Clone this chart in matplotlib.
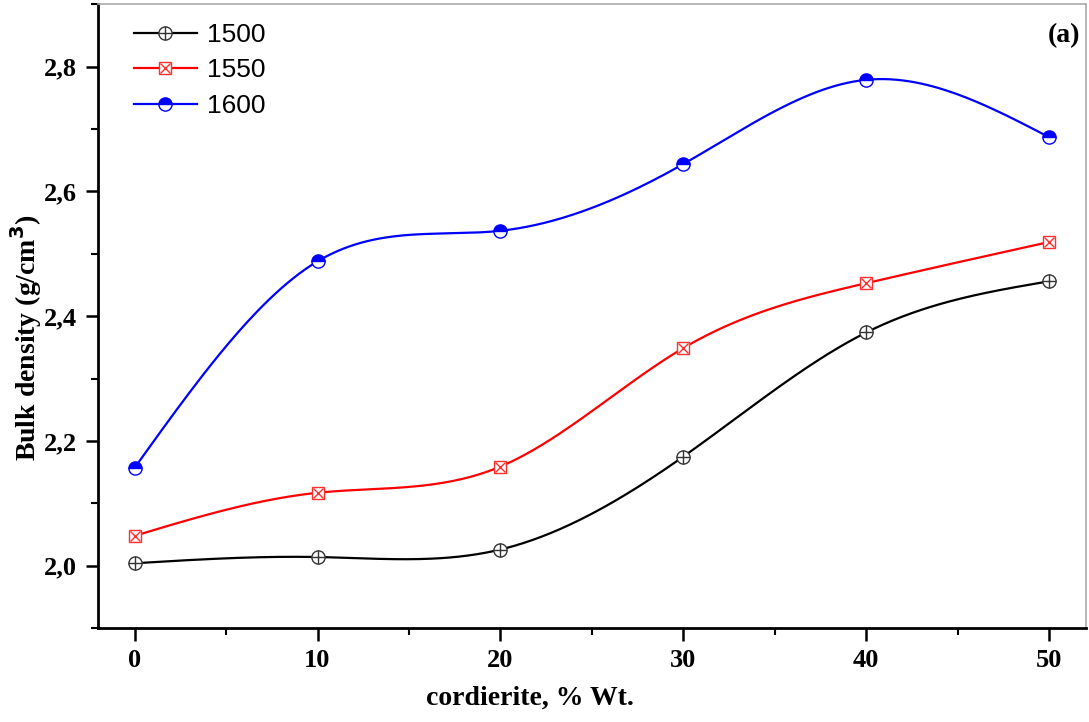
import numpy as np
import matplotlib.pyplot as plt
from matplotlib.ticker import MultipleLocator, FuncFormatter

# cordierite content, % wt
cordierite = [0, 10, 20, 30, 40, 50]

# bulk density (g/cm3) for each firing temperature
bd_1500 = [2.004, 2.014, 2.026, 2.175, 2.374, 2.456]
bd_1550 = [2.048, 2.117, 2.159, 2.349, 2.453, 2.519]
bd_1600 = [2.157, 2.488, 2.537, 2.644, 2.779, 2.687]


def spline(x, y, n=300):
    # natural cubic spline, only used to draw the smooth connecting line
    x = np.asarray(x, float)
    y = np.asarray(y, float)
    h = np.diff(x)
    k = len(x)
    A = np.zeros((k, k))
    b = np.zeros(k)
    A[0, 0] = A[-1, -1] = 1
    for i in range(1, k - 1):
        A[i, i - 1] = h[i - 1]
        A[i, i] = 2 * (h[i - 1] + h[i])
        A[i, i + 1] = h[i]
        b[i] = 6 * ((y[i + 1] - y[i]) / h[i] - (y[i] - y[i - 1]) / h[i - 1])
    m = np.linalg.solve(A, b)
    xs = np.linspace(x[0], x[-1], n)
    idx = np.clip(np.searchsorted(x, xs) - 1, 0, k - 2)
    t0 = xs - x[idx]
    t1 = x[idx + 1] - xs
    hi = h[idx]
    ys = (m[idx] * t1**3 + m[idx + 1] * t0**3) / (6 * hi) \
        + (y[idx] / hi - m[idx] * hi / 6) * t1 \
        + (y[idx + 1] / hi - m[idx + 1] * hi / 6) * t0
    return xs, ys


fig = plt.figure(figsize=(10.89, 7.22), dpi=100)
ax = fig.add_axes([0.09, 0.13, 0.907, 0.864])

ms = 9.5
lw = 1.6
handles = []

# 1500
xs, ys = spline(cordierite, bd_1500)
ax.plot(xs, ys, color='black', lw=lw)
h1 = ax.plot(cordierite, bd_1500, 'o', ms=ms, mfc='white', mec='#333333', mew=1.0)[0]
h1b = ax.plot(cordierite, bd_1500, '+', ms=ms, mec='#333333', mew=1.0)[0]
l1 = plt.Line2D([], [], color='black', lw=lw)
handles.append((l1, h1, h1b))

# 1550
xs, ys = spline(cordierite, bd_1550)
ax.plot(xs, ys, color='red', lw=lw)
h2 = ax.plot(cordierite, bd_1550, 's', ms=ms - 1, mfc='white', mec='#ff3030', mew=1.0)[0]
h2b = ax.plot(cordierite, bd_1550, 'x', ms=ms - 3, mec='#ff3030', mew=1.0)[0]
l2 = plt.Line2D([], [], color='red', lw=lw)
handles.append((l2, h2, h2b))

# 1600
xs, ys = spline(cordierite, bd_1600)
ax.plot(xs, ys, color='blue', lw=lw)
h3 = ax.plot(cordierite, bd_1600, 'o', ms=ms, fillstyle='top', mfc='blue',
             markerfacecoloralt='white', mec='blue', mew=1.0)[0]
l3 = plt.Line2D([], [], color='blue', lw=lw)
handles.append((l3, h3))

leg = ax.legend(handles, ['1500', '1550', '1600'], loc='upper left',
                bbox_to_anchor=(0.012, 1.008), frameon=False, handlelength=2.4,
                handletextpad=0.38, labelspacing=0.43,
                prop={'family': 'Liberation Sans', 'size': 19})

ax.set_xlim(-2, 52)
ax.set_ylim(1.9, 2.9)
ax.xaxis.set_major_locator(MultipleLocator(10))
ax.xaxis.set_minor_locator(MultipleLocator(5))
ax.yaxis.set_major_locator(MultipleLocator(0.2))
ax.yaxis.set_minor_locator(MultipleLocator(0.1))
ax.yaxis.set_major_formatter(FuncFormatter(lambda v, p: f'{v:.1f}'.replace('.', ',')))

ax.tick_params(which='major', direction='out', length=9, width=1.8)
ax.tick_params(which='minor', direction='out', length=5, width=1.5)
ax.tick_params(labelsize=19, pad=6)
for lab in ax.get_xticklabels() + ax.get_yticklabels():
    lab.set_fontfamily('Liberation Serif')
    lab.set_fontweight('bold')

ax.spines['left'].set_linewidth(2)
ax.spines['bottom'].set_linewidth(2)
ax.spines['top'].set_color('#aaaaaa')
ax.spines['right'].set_color('#aaaaaa')
ax.spines['top'].set_linewidth(1.2)
ax.spines['right'].set_linewidth(1.2)

ax.set_xlabel('cordierite, % Wt.', family='Liberation Serif', weight='bold', size=20)
ax.xaxis.set_label_coords(0.437, -0.112)
ax.xaxis.label.set_va('center')
ax.set_ylabel('Bulk density (g/cm$^{\\mathbf{3}}$)', family='Liberation Serif',
              weight='bold', size=20)
ax.yaxis.set_label_coords(-0.073, 0.466)
ax.yaxis.label.set_va('center')

ax.text(0.994, 0.950, '(a)', transform=ax.transAxes, ha='right', va='center',
        family='Liberation Serif', weight='bold', size=20)

fig.savefig('out.png', dpi=100)
